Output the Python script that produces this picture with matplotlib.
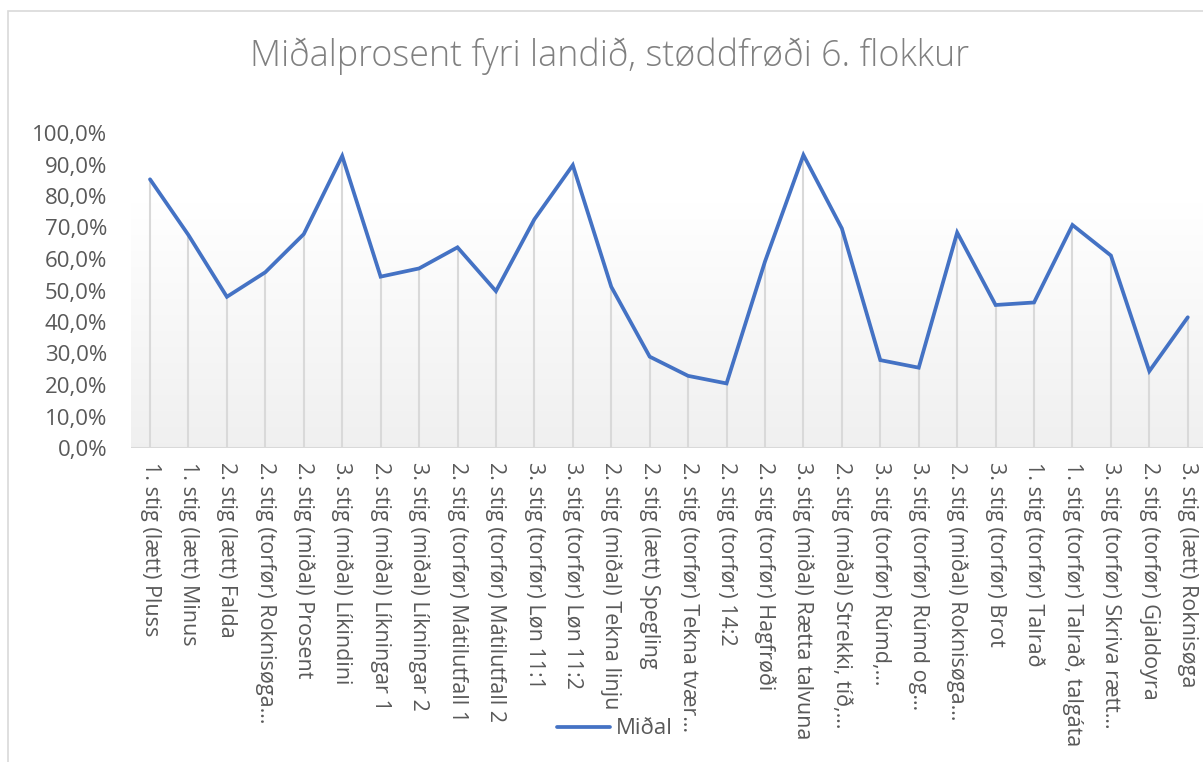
import numpy as np
import matplotlib
matplotlib.use("Agg")
import matplotlib.pyplot as plt
from matplotlib.patches import Rectangle
from matplotlib.ticker import FuncFormatter

plt.rcParams['font.family'] = ['Open Sans', 'DejaVu Sans']

title = "Miðalprosent fyri landið, støddfrøði 6. flokkur"
series_name = "Miðal"
categories = [
    "1. stig (lætt) Pluss",
    "1. stig (lætt) Minus",
    "2. stig (lætt) Falda",
    "2. stig (torfør) Roknisøga…",
    "2. stig (miðal) Prosent",
    "3. stig (miðal) Líkindini",
    "2. stig (miðal) Líkningar 1",
    "3. stig (miðal) Líkningar 2",
    "2. stig (torfør) Mátilutfall 1",
    "2. stig (torfør) Mátilutfall 2",
    "3. stig (torfør) Løn 11:1",
    "3. stig (torfør) Løn 11:2",
    "2. stig (miðal) Tekna linju",
    "2. stig (lætt) Spegling",
    "2. stig (torfør) Tekna tvær…",
    "2. stig (torfør) 14:2",
    "2. stig (torfør) Hagfrøði",
    "3. stig (miðal) Rætta talvuna",
    "2. stig (miðal) Strekki, tíð,…",
    "3. stig (torfør) Rúmd,…",
    "3. stig (torfør) Rúmd og…",
    "2. stig (miðal) Roknisøga…",
    "3. stig (torfør) Brot",
    "1. stig (torfør) Talrað",
    "1. stig (torfør) Talrað, talgáta",
    "3. stig (torfør) Skriva rætt…",
    "2. stig (torfør) Gjaldoyra",
    "3. stig (lætt) Roknisøga",
]
values = [85.3, 67.6, 48.0, 55.8, 67.9, 92.7, 54.4, 57.0, 63.7, 49.8,
          72.6, 89.8, 51.2, 29.0, 22.9, 20.5, 59.2, 93.0, 69.7, 27.9,
          25.5, 68.4, 45.4, 46.2, 70.8, 61.1, 24.4, 41.5]
y_ticks = [0, 10, 20, 30, 40, 50, 60, 70, 80, 90, 100]

W, H = 1203, 762
fig = plt.figure(figsize=(W / 100, H / 100), dpi=100)

# chart frame
fig.patches.append(Rectangle((8 / W, -0.1), 1.2, 1 - 11 / H + 0.1,
                             transform=fig.transFigure, fill=False,
                             edgecolor='#d9d9d9', linewidth=1.2, zorder=0))

left, right = 130.8, 1207.0
top, bottom = 133.0, 448.0
ax = fig.add_axes([left / W, 1 - bottom / H, (right - left) / W, (bottom - top) / H])
ax.set_facecolor('none')

x = np.arange(len(categories))
ax.set_xlim(-0.5, len(categories) - 0.5)
ax.set_ylim(0, 100)

# gradient background
grad = np.linspace(0, 1, 256).reshape(-1, 1)
c_bot = np.array([0.94, 0.94, 0.94])
c_top = np.array([1.0, 1.0, 1.0])
t = np.clip(grad / 0.78, 0, 1)
img = (c_bot + (c_top - c_bot) * t).reshape(256, 1, 3)
ax.imshow(img, extent=[-0.5, len(categories) - 0.5, 0, 100],
          origin='lower', aspect='auto', zorder=0)

# drop lines
ax.vlines(x, 0, values, colors='#d9d9d9', linewidth=1.5, zorder=1)
ax.axhline(0, color='#d9d9d9', linewidth=1.5, zorder=2)

ax.plot(x, values, color='#4472C4', linewidth=2.7, solid_joinstyle='miter',
        solid_capstyle='round', zorder=3, label=series_name)

for s in ax.spines.values():
    s.set_visible(False)

ax.set_yticks(y_ticks)
ax.yaxis.set_major_formatter(FuncFormatter(lambda v, p: f"{v:.1f}%".replace('.', ',')))
ax.set_xticks(x)
ax.set_xticklabels(categories, rotation=-90, ha='center', va='top')
ax.tick_params(axis='y', length=0, pad=17, labelsize=16, labelcolor='#595959')
ax.tick_params(axis='x', length=0, pad=10, labelsize=15.5, labelcolor='#595959')

fig.text(609.5 / W, 1 - 56 / H, title, ha='center', va='center',
         fontsize=25.8, color='#808080', fontweight='light')

leg = ax.legend(loc='center left', bbox_to_anchor=(557 / W, 1 - 729 / H),
                bbox_transform=fig.transFigure, frameon=False, borderpad=0,
                borderaxespad=0, handlelength=2.4, handletextpad=0.25,
                fontsize=16)
for txt in leg.get_texts():
    txt.set_color('#595959')

fig.savefig('out.png', dpi=100)
